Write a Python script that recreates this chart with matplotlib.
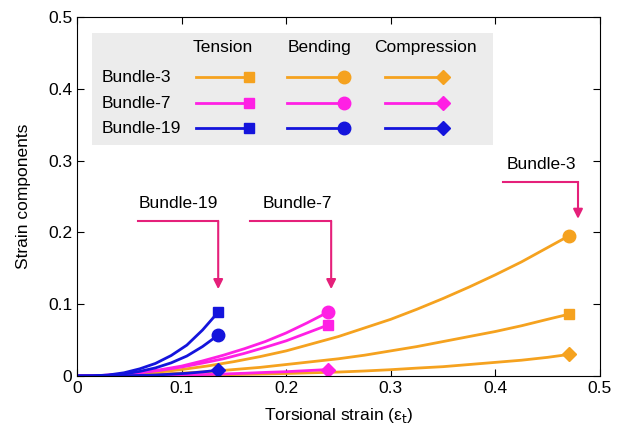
import matplotlib
matplotlib.use('Agg')
import matplotlib.pyplot as plt
from matplotlib.patches import Rectangle

plt.rcParams['font.family'] = ['Liberation Sans', 'DejaVu Sans']

# Данные
x3 = [0, 0.025, 0.05, 0.075, 0.1, 0.125, 0.15, 0.175, 0.2, 0.225, 0.25, 0.275,
      0.3, 0.325, 0.35, 0.375, 0.4, 0.425, 0.45, 0.47]
b3_tension = [0, 0.0003, 0.001, 0.0022, 0.004, 0.006, 0.009, 0.012, 0.016, 0.020,
              0.024, 0.029, 0.035, 0.041, 0.048, 0.055, 0.062, 0.070, 0.079, 0.086]
b3_bending = [0, 0.0006, 0.002, 0.005, 0.009, 0.014, 0.020, 0.027, 0.035, 0.045,
              0.055, 0.067, 0.079, 0.093, 0.108, 0.124, 0.141, 0.159, 0.179, 0.195]
b3_compression = [0, 0, 0, 0.0005, 0.001, 0.0014, 0.002, 0.0027, 0.0035, 0.0045,
                  0.0055, 0.007, 0.0088, 0.011, 0.013, 0.016, 0.019, 0.022, 0.026, 0.030]

x7 = [0, 0.02, 0.04, 0.06, 0.08, 0.1, 0.12, 0.14, 0.16, 0.18, 0.2, 0.22, 0.24]
b7_tension = [0, 0.0005, 0.002, 0.0045, 0.008, 0.0125, 0.018, 0.024, 0.0315, 0.040,
              0.049, 0.060, 0.071]
b7_bending = [0, 0.0005, 0.002, 0.005, 0.0088, 0.0138, 0.021, 0.029, 0.038, 0.048,
              0.060, 0.074, 0.089]
b7_compression = [0, 0, 0.0001, 0.0003, 0.0007, 0.0012, 0.002, 0.0028, 0.0038,
                  0.005, 0.006, 0.0075, 0.009]

x19 = [0, 0.015, 0.03, 0.045, 0.06, 0.075, 0.09, 0.105, 0.12, 0.135]
b19_tension = [0, 0.0002, 0.0014, 0.0045, 0.010, 0.0175, 0.0285, 0.043, 0.064, 0.089]
b19_bending = [0, 0.0001, 0.0009, 0.0029, 0.0064, 0.0113, 0.0183, 0.0278, 0.041, 0.057]
b19_compression = [0, 0, 0.0001, 0.0004, 0.0008, 0.0014, 0.0025, 0.0038, 0.0057, 0.008]

orange = '#f5a21f'
magenta = '#ff20e4'
blue = '#1414dc'
arrow_col = '#e5207a'

fig = plt.figure(figsize=(6.17, 4.28), dpi=100)
ax = fig.add_axes([0.1248, 0.1215, 0.8476, 0.8385])

series = [
    (x3, b3_tension, b3_bending, b3_compression, orange),
    (x7, b7_tension, b7_bending, b7_compression, magenta),
    (x19, b19_tension, b19_bending, b19_compression, blue),
]
for xs, t, b, c, col in series:
    ax.plot(xs, t, color=col, lw=2, marker='s', ms=7, markevery=[-1])
    ax.plot(xs, b, color=col, lw=2, marker='o', ms=9, markevery=[-1])
    ax.plot(xs, c, color=col, lw=2, marker='D', ms=7, markevery=[-1])

# Легенда вручную
ax.add_patch(Rectangle((0.0143, 0.322), 0.383, 0.156, facecolor='#ececec',
                       edgecolor='none', zorder=0))
fs = 12.5
for hx, txt in [(0.139, 'Tension'), (0.232, 'Bending'), (0.333, 'Compression')]:
    ax.text(hx, 0.457, txt, ha='center', va='center', fontsize=fs)
rows = [(0.4165, 'Bundle-3', orange), (0.380, 'Bundle-7', magenta),
        (0.3455, 'Bundle-19', blue)]
segs = [((0.114, 0.164), 's', 7), ((0.201, 0.255), 'o', 9), ((0.294, 0.350), 'D', 7)]
for ry, lab, col in rows:
    ax.text(0.024, ry, lab, ha='left', va='center', fontsize=fs)
    for (x0, x1), m, ms in segs:
        ax.plot([x0, x1], [ry, ry], color=col, lw=2, marker=m, ms=ms, markevery=[-1])

# Стрелки с подписями
notes = [('Bundle-19', 0.0966, 0.241, 0.058, 0.135, 0.216, 0.121),
         ('Bundle-7', 0.211, 0.241, 0.165, 0.243, 0.216, 0.121),
         ('Bundle-3', 0.444, 0.294, 0.407, 0.479, 0.270, 0.219)]
for txt, tx, ty, x0, x1, yh, yend in notes:
    ax.text(tx, ty, txt, ha='center', va='center', fontsize=fs)
    ax.plot([x0, x1], [yh, yh], color=arrow_col, lw=1.5)
    ax.annotate('', xy=(x1, yend), xytext=(x1, yh),
                arrowprops=dict(arrowstyle='-|>', color=arrow_col, lw=1.5,
                                mutation_scale=14, shrinkA=0, shrinkB=0))

ax.set_xlim(0, 0.5)
ax.set_ylim(0, 0.5)
ax.set_xticks([0, 0.1, 0.2, 0.3, 0.4, 0.5])
ax.set_yticks([0, 0.1, 0.2, 0.3, 0.4, 0.5])
ax.set_xticklabels(['0', '0.1', '0.2', '0.3', '0.4', '0.5'])
ax.set_yticklabels(['0', '0.1', '0.2', '0.3', '0.4', '0.5'])
ax.tick_params(direction='in', top=True, right=True, length=5, labelsize=fs)
ax.set_xlabel('Torsional strain (ε$_{\\rm t}$)', fontsize=fs, labelpad=7)
ax.set_ylabel('Strain components', fontsize=fs, labelpad=12)

plt.savefig('out.png', dpi=100)
